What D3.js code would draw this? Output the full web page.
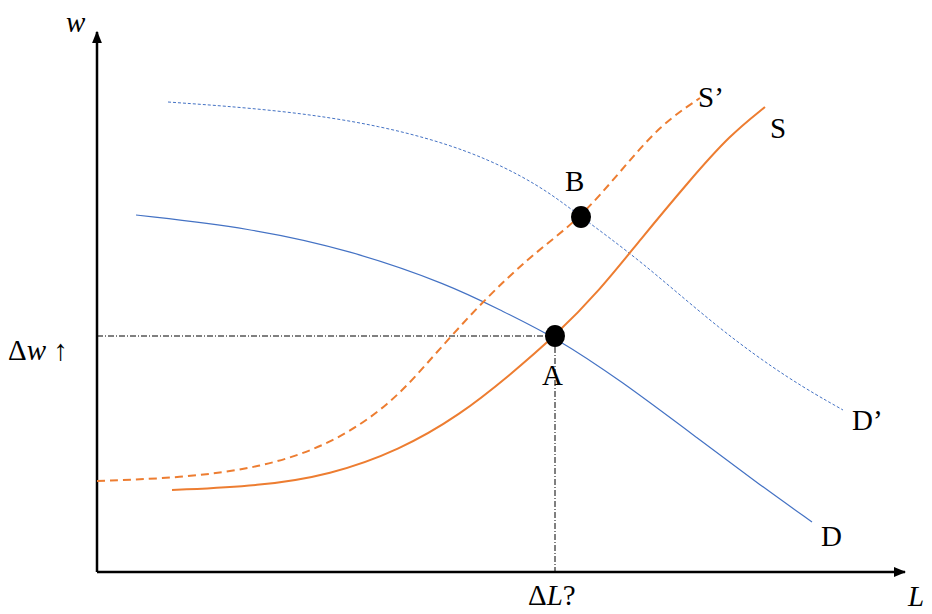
<!DOCTYPE html>
<html>
<head>
<meta charset="utf-8">
<script src="https://cdn.jsdelivr.net/npm/d3@7"></script>
<style>
  body { margin: 0; background: #fff; }
  text { font-family: "Liberation Serif", "DejaVu Serif", serif; fill: #000; }
</style>
</head>
<body>
<svg id="chart" width="932" height="614"></svg>
<script>
// Curves in axis units (origin at the axes corner, y upward)
const demandD = [[39,357],[153,344],[253,322],[353,287],[403,262],[458,235],[523,192],[603,132],[663,87],[715,50]];
const demandD2 = [[71,470],[183,462],[283,447],[373,422],[443,387],[484,355],[543,312],[623,242],[693,192],[746,162]];
const supplyS = [[75,82],[163,86],[233,97],[303,122],[363,157],[413,197],[458,236],[503,282],[543,332],[593,392],[633,437],[668,465]];
const supplyS2 = [[0,91],[83,94],[163,104],[233,127],[293,167],[333,212],[373,257],[413,297],[448,327],[484,355],[523,400],[563,447],[603,474]];
const points = [{name: "A", x: 458, y: 236}, {name: "B", x: 484, y: 355}];

const svg = d3.select("#chart");
const x = d3.scaleLinear().domain([0, 800]).range([97, 897]);
const y = d3.scaleLinear().domain([0, 540]).range([572, 32]);

// Flèches des axes
svg.append("defs").append("marker")
    .attr("id", "arrow").attr("viewBox", "0 0 10 10")
    .attr("refX", 9).attr("refY", 5)
    .attr("markerWidth", 5).attr("markerHeight", 5)
    .attr("orient", "auto")
    .append("path").attr("d", "M0,1 L10,5 L0,9 Z").attr("fill", "#000");

svg.append("line").attr("x1", x(0)).attr("y1", y(0)).attr("x2", x(0)).attr("y2", y(540))
    .attr("stroke", "#000").attr("stroke-width", 2.5).attr("marker-end", "url(#arrow)");
svg.append("line").attr("x1", x(0)).attr("y1", y(0)).attr("x2", x(808)).attr("y2", y(0))
    .attr("stroke", "#000").attr("stroke-width", 2.5).attr("marker-end", "url(#arrow)");

const line = d3.line().x(d => x(d[0])).y(d => y(d[1])).curve(d3.curveBasis);

svg.append("path").attr("d", line(demandD2)).attr("fill", "none")
    .attr("stroke", "#4472c4").attr("stroke-width", 1).attr("stroke-dasharray", "3,2");
svg.append("path").attr("d", line(demandD)).attr("fill", "none")
    .attr("stroke", "#4472c4").attr("stroke-width", 1.2);
svg.append("path").attr("d", line(supplyS2)).attr("fill", "none")
    .attr("stroke", "#ed7d31").attr("stroke-width", 2).attr("stroke-dasharray", "8,5");
svg.append("path").attr("d", line(supplyS)).attr("fill", "none")
    .attr("stroke", "#ed7d31").attr("stroke-width", 2);

// Lignes de projection de A
const a = points[0];
svg.append("line").attr("x1", x(0)).attr("y1", y(a.y)).attr("x2", x(a.x)).attr("y2", y(a.y))
    .attr("stroke", "#000").attr("stroke-width", 1).attr("stroke-dasharray", "6,2,1,2");
svg.append("line").attr("x1", x(a.x)).attr("y1", y(a.y)).attr("x2", x(a.x)).attr("y2", y(0))
    .attr("stroke", "#000").attr("stroke-width", 1).attr("stroke-dasharray", "6,2,1,2");

svg.selectAll("ellipse.pt").data(points).enter().append("ellipse")
    .attr("class", "pt")
    .attr("cx", d => x(d.x)).attr("cy", d => y(d.y))
    .attr("rx", 10).attr("ry", 11).attr("fill", "#000");

const labels = [
    {t: "A", px: 542, py: 385},
    {t: "B", px: 565, py: 191},
    {t: "S’", px: 698, py: 107},
    {t: "S", px: 770, py: 138},
    {t: "D’", px: 852, py: 430},
    {t: "D", px: 821, py: 546}
];
svg.selectAll("text.lab").data(labels).enter().append("text")
    .attr("class", "lab").attr("x", d => d.px).attr("y", d => d.py)
    .style("font-size", "29px").text(d => d.t);

svg.append("text").attr("x", 66).attr("y", 32).style("font-size", "29px").style("font-style", "italic").text("w");
svg.append("text").attr("x", 908).attr("y", 606).style("font-size", "29px").style("font-style", "italic").text("L");
const dw = svg.append("text").attr("x", 8).attr("y", 360).style("font-size", "29px");
dw.append("tspan").text("Δ");
dw.append("tspan").style("font-style", "italic").text("w");
dw.append("tspan").text(" ↑");
const dl = svg.append("text").attr("x", 528).attr("y", 605).style("font-size", "29px");
dl.append("tspan").text("Δ");
dl.append("tspan").style("font-style", "italic").text("L");
dl.append("tspan").text("?");
</script>
</body>
</html>
